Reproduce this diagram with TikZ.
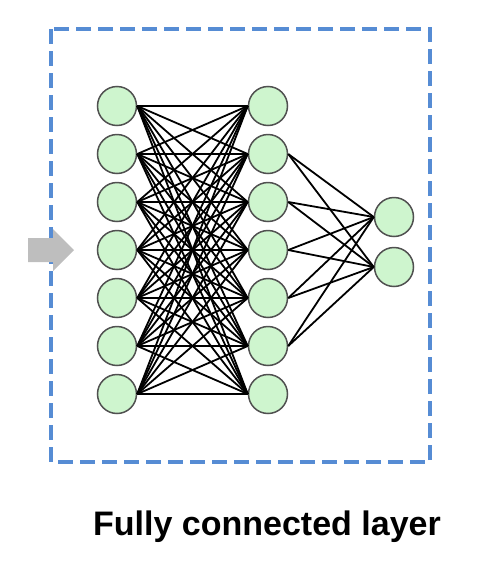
\documentclass[tikz,border=0pt]{standalone}
\usepackage{fontspec}
\setmainfont{Liberation Sans}
\definecolor{boxblue}{RGB}{86,140,212}
\definecolor{nodegreen}{RGB}{206,245,206}
\definecolor{nodeborder}{RGB}{80,80,80}
\definecolor{arrowgray}{RGB}{190,190,190}
\tikzset{
  neuron/.style={circle, draw=nodeborder, line width=1.5pt, fill=nodegreen, minimum size=39pt, inner sep=0pt},
  conn/.style={black, line width=1.8pt},
  framebox/.style={draw=boxblue, line width=4.2pt, dash pattern=on 15pt off 7pt},
  inarrow/.style={fill=arrowgray, draw=none},
  caption/.style={font=\bfseries\fontsize{34}{40}\selectfont, text=black}
}
\begin{document}
\begin{tikzpicture}[x=1pt,y=-1pt]
\useasboundingbox (0,0) rectangle (486,563);
\draw[framebox] (51,29) rectangle (430,462);
\fill[inarrow] (28,238) -- (53,238) -- (53,229) -- (74,250) -- (53,271) -- (53,262) -- (28,262) -- cycle;
\foreach \i/\y in {1/106,2/154,3/202,4/250,5/298,6/346,7/394}{
  \node[neuron] (a\i) at (117,\y) {};
  \node[neuron] (b\i) at (268,\y) {};
}
\node[neuron] (c1) at (394,217) {};
\node[neuron] (c2) at (394,267) {};
\foreach \i in {1,...,7}{
  \foreach \j in {1,...,7}{
    \draw[conn] (a\i.east) -- (b\j.west);
  }
}
\foreach \i in {2,...,6}{
  \foreach \j in {1,2}{
    \draw[conn] (b\i.east) -- (c\j.west);
  }
}
\node[caption] (cap) at (267,527) {Fully connected layer};
\end{tikzpicture}
\end{document}
